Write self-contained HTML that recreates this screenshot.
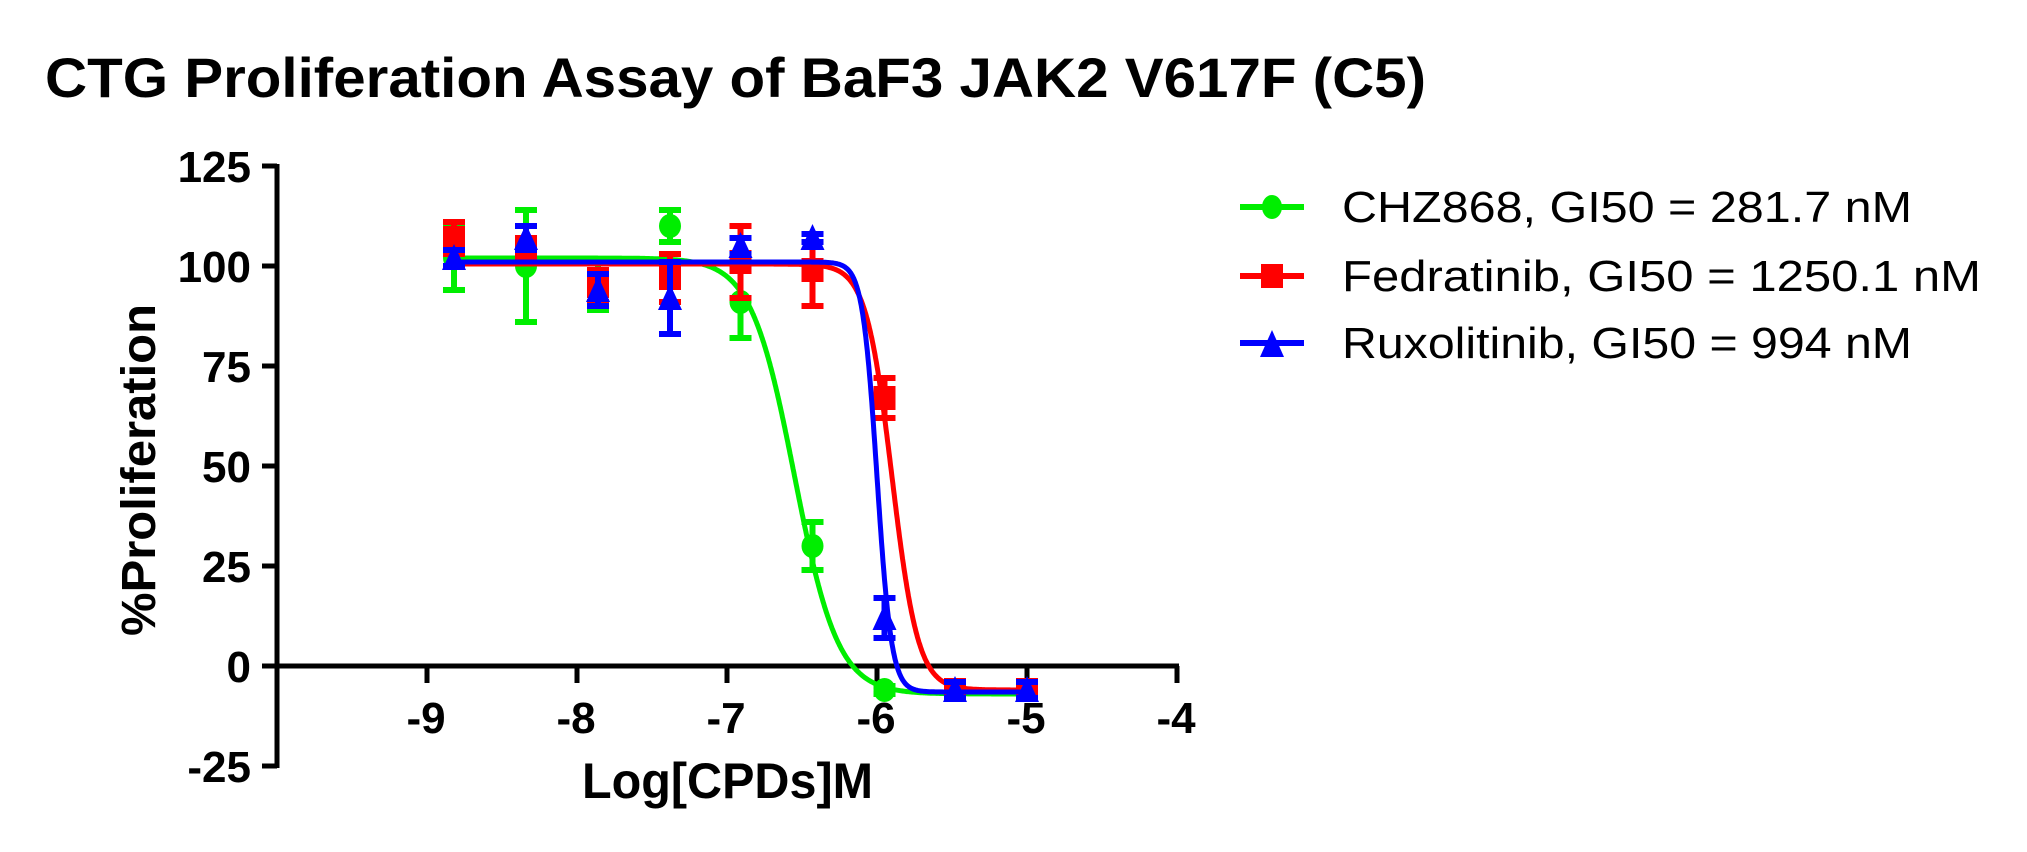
<!DOCTYPE html>
<html><head><meta charset="utf-8"><style>
html,body{margin:0;padding:0;background:#fff;}
svg{display:block;}
</style></head><body>
<svg id="s" width="2027" height="852" xmlns="http://www.w3.org/2000/svg" font-family="Liberation Sans, Arial, sans-serif">
<text x="45" y="97" font-size="56" font-weight="bold" textLength="1381" lengthAdjust="spacingAndGlyphs">CTG Proliferation Assay of BaF3 JAK2 V617F (C5)</text>
<g stroke="#000" stroke-width="5" fill="none">
<line x1="277" y1="164" x2="277" y2="768"/>
<line x1="275" y1="666" x2="1179" y2="666"/>
<line x1="262" y1="166" x2="277" y2="166"/>
<line x1="262" y1="266" x2="277" y2="266"/>
<line x1="262" y1="366" x2="277" y2="366"/>
<line x1="262" y1="466" x2="277" y2="466"/>
<line x1="262" y1="566" x2="277" y2="566"/>
<line x1="262" y1="666" x2="277" y2="666"/>
<line x1="262" y1="766" x2="277" y2="766"/>
<line x1="427" y1="666" x2="427" y2="683"/>
<line x1="577" y1="666" x2="577" y2="683"/>
<line x1="727" y1="666" x2="727" y2="683"/>
<line x1="877" y1="666" x2="877" y2="683"/>
<line x1="1027" y1="666" x2="1027" y2="683"/>
<line x1="1177" y1="666" x2="1177" y2="683"/>
</g>
<g font-size="44" font-weight="bold" text-anchor="end">
<text x="251" y="182">125</text><text x="251" y="282">100</text><text x="251" y="382">75</text>
<text x="251" y="482">50</text><text x="251" y="582">25</text><text x="251" y="682">0</text><text x="251" y="782">-25</text>
</g>
<g font-size="44" font-weight="bold" text-anchor="middle">
<text x="426" y="733">-9</text><text x="576" y="733">-8</text><text x="726" y="733">-7</text>
<text x="876" y="733">-6</text><text x="1026" y="733">-5</text><text x="1176" y="733">-4</text>
</g>
<text x="582" y="798" font-size="50" font-weight="bold" textLength="291" lengthAdjust="spacingAndGlyphs">Log[CPDs]M</text>
<text transform="translate(155,470) rotate(-90)" font-size="48" font-weight="bold" text-anchor="middle" textLength="332" lengthAdjust="spacingAndGlyphs">%Proliferation</text>
<g id="data"></g>
<g font-size="44">
<line x1="1240" y1="207" x2="1304" y2="207" stroke="#00ee00" stroke-width="6"/>
<ellipse cx="1272" cy="207" rx="10" ry="12" fill="#00ee00"/>
<text x="1342" y="222" textLength="570" lengthAdjust="spacingAndGlyphs">CHZ868, GI50 = 281.7 nM</text>
<line x1="1240" y1="276" x2="1304" y2="276" stroke="#ff0000" stroke-width="6"/>
<rect x="1261" y="264" width="22" height="24" fill="#ff0000"/>
<text x="1342" y="291" textLength="639" lengthAdjust="spacingAndGlyphs">Fedratinib, GI50 = 1250.1 nM</text>
<line x1="1240" y1="343" x2="1304" y2="343" stroke="#0000ff" stroke-width="6"/>
<polygon points="1272,330 1284,357 1260,357" fill="#0000ff"/>
<text x="1342" y="358" textLength="570" lengthAdjust="spacingAndGlyphs">Ruxolitinib, GI50 = 994 nM</text>
</g>
</svg>
<script>
var X=function(v){return 427+150*(v+9)}, Y=function(p){return 666-4*p};
var xs=[-8.82,-8.34,-7.86,-7.38,-6.91,-6.43,-5.95,-5.48,-5.0];
var S=[
{c:"#00ee00",m:"c",top:102,bot:-7,ic:-6.55,h:3,y:[102,100,95,110,91,30,-6,null,null],e:[8,14,6,4,9,6,1,0,0]},
{c:"#ff0000",m:"s",top:100.5,bot:-6,ic:-5.90,h:5,y:[107,104,95,97,101,99,67,-6,-6],e:[4,3,4,6,9,9,5,2,2]},
{c:"#0000ff",m:"t",top:101,bot:-6.5,ic:-6.00,h:9,y:[102,107,94,92,105,107,12,-6,-6],e:[2,3,4,9,2,1,5,2,2]}
];
var g=document.getElementById("data"),h="";
S.forEach(function(s){
 var d="";
 for(var v=-8.82;v<=-5.0;v+=0.005){var p=s.bot+(s.top-s.bot)/(1+Math.pow(10,(v-s.ic)*s.h));d+=(d?"L":"M")+X(v).toFixed(1)+","+Y(p).toFixed(1);}
 h+='<path d="'+d+'" stroke="'+s.c+'" stroke-width="5" fill="none"/>';
 xs.forEach(function(v,i){var p=s.y[i];if(p==null)return;var x=X(v),y=Y(p),e=s.e[i]*4;
  if(e>3){h+='<path d="M'+(x-11)+','+(y-e)+'H'+(x+11)+'M'+x+','+(y-e)+'V'+(y+e)+'M'+(x-11)+','+(y+e)+'H'+(x+11)+'" stroke="'+s.c+'" stroke-width="6" fill="none"/>';}
  if(s.m=="c")h+='<ellipse cx="'+x+'" cy="'+y+'" rx="11" ry="12" fill="'+s.c+'"/>';
  else if(s.m=="s")h+='<rect x="'+(x-11)+'" y="'+(y-12)+'" width="22" height="24" fill="'+s.c+'"/>';
  else h+='<polygon points="'+x+','+(y-14)+' '+(x+12)+','+(y+12)+' '+(x-12)+','+(y+12)+'" fill="'+s.c+'"/>';
 });
});
g.innerHTML=h;
</script>
</body></html>
